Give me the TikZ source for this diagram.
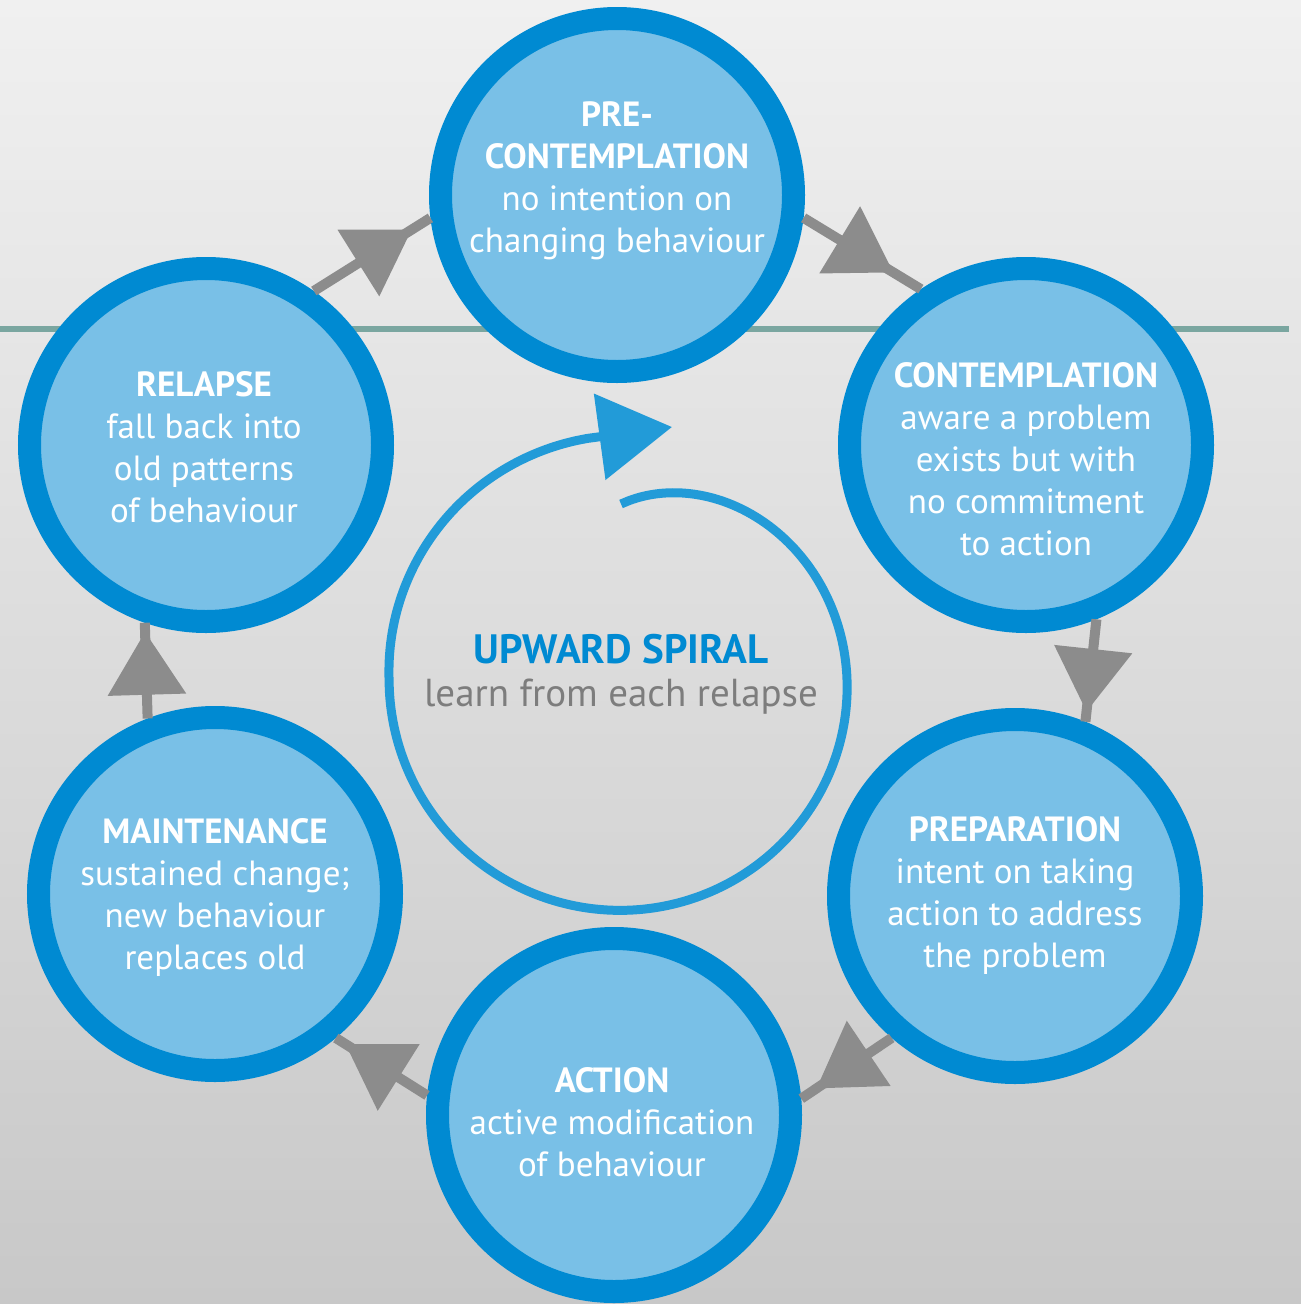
\documentclass[tikz,border=0pt]{standalone}
\usepackage{fontspec}
\setmainfont{PT Sans}
\usetikzlibrary{arrows.meta,decorations.markings}

\definecolor{ringblue}{RGB}{0,138,210}
\definecolor{fillblue}{RGB}{121,192,231}
\definecolor{spiralblue}{RGB}{34,155,216}
\definecolor{arrowgrey}{RGB}{140,140,140}
\definecolor{rulegreen}{RGB}{122,166,160}
\definecolor{bgtop}{RGB}{240,240,240}
\definecolor{bgbottom}{RGB}{200,200,200}
\definecolor{textgrey}{RGB}{125,125,125}

\tikzset{
  stage/.style={circle,draw=ringblue,fill=fillblue,line width=23pt,
    minimum size=353pt,inner sep=0pt},
  stagetext/.style={text=white,align=center,font=\fontsize{35}{42}\selectfont},
  stagearrow/.style={draw=arrowgrey,line width=10pt,
    postaction={decorate,decoration={markings,
      mark=at position #1 with {\arrow{Triangle[length=63pt,width=76pt]}}}}},
}

\begin{document}
\begin{tikzpicture}[x=1pt,y=-1pt]
  \useasboundingbox (0,0) rectangle (1301,1304);
  \shade[top color=bgtop,bottom color=bgbottom] (0,0) rectangle (1301,1304);
  \draw[rulegreen,line width=6pt] (0,329) -- (1289,329);%<- the rule behind the top row

  % the upward spiral
  \coordinate (spiraltip) at (672,427);
  \draw[spiralblue,line width=9pt,-{Triangle[length=73pt,width=85pt]}]
    plot[domain=0:352,samples=120,smooth]
      ({621+(232-57*exp(-\x/40)+12*max(0,\x-270)/90)*sin(\x)},
       {679-(232-57*exp(-\x/40)+12*max(0,\x-270)/90)*cos(\x)})
    -- (spiraltip);
  \node[text=ringblue,font=\fontsize{41}{49}\selectfont\bfseries] (spiraltitle) at (621,649)
    {UPWARD SPIRAL};
  \node[text=textgrey,font=\fontsize{39}{49}\selectfont] (spiraltext) at (621,697)
    {learn from each relapse};

  % the six stages
  \node[stage] (pre) at (617,195) {};
  \node[stage] (contemplation) at (1026,445) {};
  \node[stage] (preparation) at (1015,896) {};
  \node[stage] (action) at (614,1115) {};
  \node[stage] (maintenance) at (215,894) {};
  \node[stage] (relapse) at (206,445) {};

  \node[stagetext] (pretext) at (617,181)
    {\bfseries PRE-\\\bfseries CONTEMPLATION\\no intention on\\changing behaviour};
  \node[stagetext] (contemplationtext) at (1026,459)
    {\bfseries CONTEMPLATION\\aware a problem\\exists but with\\no commitment\\to action};
  \node[stagetext] (preparationtext) at (1015,895)
    {\bfseries PREPARATION\\intent on taking\\action to address\\the problem};
  \node[stagetext] (actiontext) at (612,1122)
    {\bfseries ACTION\\active modification\\of behaviour};
  \node[stagetext] (maintenancetext) at (215,897)
    {\bfseries MAINTENANCE\\sustained change;\\new behaviour\\replaces old};
  \node[stagetext] (relapsetext) at (204,447)
    {\bfseries RELAPSE\\fall back into\\old patterns\\of behaviour};

  % the cycle
  \draw[stagearrow=-22pt] (relapse.55) -- (pre.187);
  \draw[stagearrow=-32pt] (pre.-7) -- (contemplation.124);
  \draw[stagearrow=-10pt] (contemplation.-68) -- (preparation.68);
  \draw[stagearrow=-18pt] (preparation.229) -- (action.5);
  \draw[stagearrow=-11pt] (action.174) -- (maintenance.310);
  \draw[stagearrow=-9pt] (maintenance.111) -- (relapse.251);
\end{tikzpicture}
\end{document}
